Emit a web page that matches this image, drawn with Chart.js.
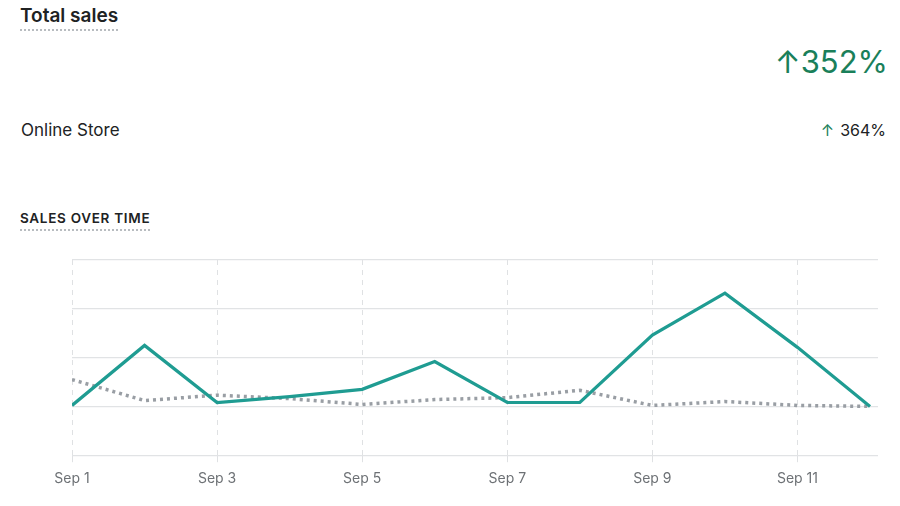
<!DOCTYPE html>
<html>
<head>
<meta charset="utf-8">
<script src="https://cdn.jsdelivr.net/npm/chart.js@4/dist/chart.umd.min.js"></script>
<style>
  body { margin: 0; width: 900px; height: 506px; background: #fff; font-family: Inter, "Noto Sans", sans-serif; color: #202223; position: relative; overflow: hidden; }
  .title { position: absolute; left: 20px; top: 5px; font-size: 19px; font-weight: 600; padding-bottom: 2px; border-bottom: 2px dotted #b8bcc0; line-height: 22px; }
  .big { position: absolute; right: 12px; top: 42px; font-size: 31px; color: #1a7f5a; line-height: 40px; }
  .store { position: absolute; left: 21px; top: 119px; font-size: 17px; line-height: 22px; }
  .small { position: absolute; right: 14px; top: 119px; font-size: 16px; line-height: 22px; color: #202223; }
  .small .arr { color: #1a7f5a; margin-right: 6px; }
  .sub { position: absolute; left: 20px; top: 210px; font-size: 13.5px; font-weight: 600; letter-spacing: 0.7px; padding-bottom: 2px; border-bottom: 2px dotted #b8bcc0; line-height: 17px; }
  #wrap { position: absolute; left: 0; top: 250px; width: 900px; height: 256px; }
</style>
</head>
<body>
<div class="title">Total sales</div>
<div class="big">↑352%</div>
<div class="store">Online Store</div>
<div class="small"><span class="arr">↑</span>364%</div>
<div class="sub">SALES OVER TIME</div>
<div id="wrap"><canvas id="salesChart"></canvas></div>
<script>
const days = [1, 2, 3, 4, 5, 6, 7, 8, 9, 10, 11, 12];
const tickDays = [1, 3, 5, 7, 9, 11];
const currentSales = [2, 125, 8, 20, 35, 92, 8, 8, 146, 232, 121, 0];
const previousSales = [55, 12, 23, 16, 4, 14, 18, 33, 2, 10, 2, 0];

function toPoints(values) {
    return days.map((d, i) => ({ x: d, y: values[i] }));
}

const ctx = document.getElementById("salesChart").getContext("2d");

new Chart(ctx, {
    type: "line",
    data: {
        datasets: [
            {
                label: "Current",
                data: toPoints(currentSales),
                borderColor: "#1f9c92",
                borderWidth: 3.2,
                pointRadius: 0,
                tension: 0,
            },
            {
                label: "Previous",
                data: toPoints(previousSales),
                borderColor: "#999ea4",
                borderWidth: 3.5,
                borderDash: [3, 4],
                pointRadius: 0,
                tension: 0,
            },
        ],
    },
    options: {
        responsive: true,
        maintainAspectRatio: false,
        animation: false,
        layout: { padding: { left: 72, right: 22, top: 10, bottom: 11 } },
        plugins: { legend: { display: false }, tooltip: { enabled: false } },
        scales: {
            x: {
                type: "linear",
                min: 1,
                max: 12.11,
                afterBuildTicks: (scale) => {
                    scale.ticks = tickDays.map((v) => ({ value: v }));
                },
                grid: {
                    color: "#dfe1e3",
                    tickLength: 7,
                    tickColor: "#dfe1e3",
                },
                border: { display: false, dash: [5, 5] },
                ticks: {
                    color: "#6d7175",
                    font: { family: "Inter", size: 14 },
                    padding: 8,
                    maxRotation: 0,
                    callback: (v) => "Sep " + v,
                },
            },
            y: {
                min: -100,
                max: 300,
                ticks: { display: false, stepSize: 100 },
                grid: { color: "#e1e3e5", drawTicks: false, lineWidth: 1.2 },
                border: { display: false },
            },
        },
    },
});
</script>
</body>
</html>
